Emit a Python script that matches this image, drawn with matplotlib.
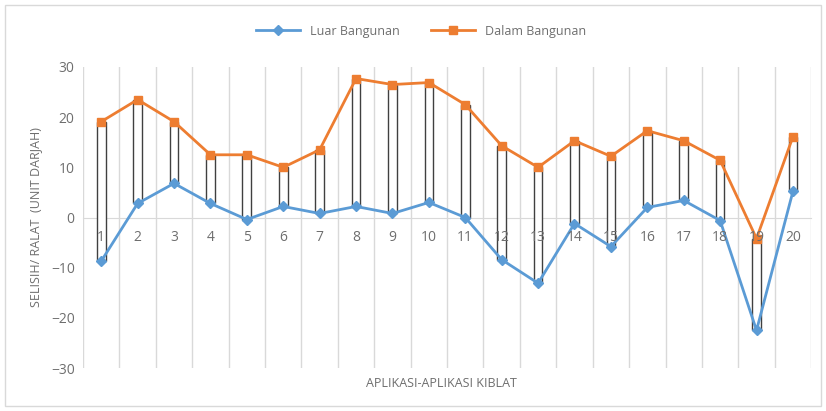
import matplotlib
matplotlib.use("Agg")
import matplotlib.pyplot as plt
import matplotlib.patches as mpatches
import numpy as np

# ── Data ──────────────────────────────────────────────────────────────────────
aplikasi = [str(i) for i in range(1, 21)]
luar_bangunan = [-8.7, 2.8, 6.8, 2.8, -0.4, 2.2, 0.8, 2.2, 0.8, 3.0,
                 0.0, -8.4, -13.1, -1.2, -5.8, 2.0, 3.4, -0.6, -22.5, 5.2]
dalam_bangunan = [19.1, 23.5, 19.1, 12.5, 12.5, 10.0, 13.5, 27.7, 26.5, 26.9,
                  22.5, 14.3, 10.0, 15.3, 12.2, 17.3, 15.3, 11.4, -4.2, 16.1]

BLUE = "#5B9BD5"
ORANGE = "#ED7D31"
TXT = "#6E6E6E"
GRID = "#D9D9D9"

plt.rcParams["font.family"] = ["Open Sans", "DejaVu Sans"]

fig = plt.figure(figsize=(8.26, 4.11), dpi=100)
ax = fig.add_axes([0.1005, 0.1046, 0.8815, 0.7324])

x = np.arange(1, len(aplikasi) + 1)
luar = np.array(luar_bangunan)
dalam = np.array(dalam_bangunan)

# up-down bars between the two series
ax.bar(x, dalam - luar, bottom=luar, width=0.24, facecolor="white",
       edgecolor="#404040", linewidth=1.0, zorder=2)

ax.plot(x, luar, color=BLUE, lw=2, marker="D", ms=5, zorder=3,
        label="Luar Bangunan")
ax.plot(x, dalam, color=ORANGE, lw=2, marker="s", ms=6, zorder=4,
        label="Dalam Bangunan")

# ── Axes styling ──────────────────────────────────────────────────────────────
ax.set_xlim(0.5, 20.5)
ax.set_ylim(-30, 30)
ax.set_yticks(range(-30, 31, 10))
ax.set_xticks(x)
ax.set_xticklabels(aplikasi)
ax.xaxis.set_zorder(5)

for b in np.arange(0.5, 21, 1.0):
    ax.axvline(b, color=GRID, lw=1, zorder=1)

for s in ["top", "right", "left"]:
    ax.spines[s].set_visible(False)
ax.spines["bottom"].set_position(("data", 0))
ax.spines["bottom"].set_color(GRID)
ax.spines["bottom"].set_zorder(1)
ax.tick_params(axis="both", length=0, colors=TXT, labelsize=10)
ax.tick_params(axis="x", pad=9)
ax.tick_params(axis="y", pad=6)

ax.set_ylabel("SELISIH/ RALAT  (UNIT DARJAH)", fontsize=9, color=TXT, labelpad=6)
fig.text(0.535, 0.068, "APLIKASI-APLIKASI KIBLAT", ha="center", va="center",
         fontsize=9, color=TXT)

fig.legend(loc="center", bbox_to_anchor=(0.51, 0.924), ncol=2, frameon=False,
           fontsize=9, labelcolor=TXT, handlelength=3.5, columnspacing=2.5)

# chart border
fig.add_artist(mpatches.Rectangle((0.006, 0.012), 0.988, 0.976,
                                  transform=fig.transFigure, fill=False,
                                  edgecolor=GRID, lw=1))

fig.savefig("out.png", dpi=100, facecolor="white")
